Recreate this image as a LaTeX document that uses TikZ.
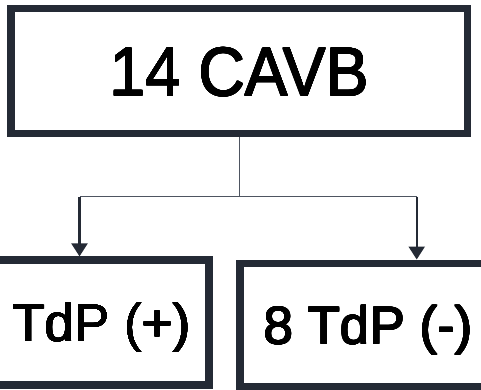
\documentclass[tikz,border=0pt]{standalone}
\usepackage{fontspec}
\setmainfont{Liberation Sans}
\usepackage[copies]{contour}
\contourlength{0.4pt}
\contournumber{16}
\usetikzlibrary{arrows.meta}
\definecolor{frame}{HTML}{242A35}
\definecolor{wire}{HTML}{4E5561}
\newcommand{\heavy}[1]{\contour{black}{#1}}
\begin{document}
\begin{tikzpicture}[x=1pt,y=-1pt,
  box/.style={draw=frame,line width=7.5pt,inner sep=0pt,
    text depth=0pt,text=black},
  link/.style={draw=wire,line width=1pt},
  feed/.style={draw=frame,line width=2.3pt,
    -{Triangle[width=16pt,length=13pt]}}]
  \useasboundingbox (0,0) rectangle (481,390);
  \fill[white] (0,0) rectangle (481,390);

  \node[box,minimum width=456.7pt,minimum height=125pt,text height=49.5pt,
    font=\fontsize{69}{69}\selectfont] (top) at (239.35,71.2)
    {\scalebox{0.93}[1]{\heavy{14 CAVB}}};
  \node[box,minimum width=214.6pt,minimum height=124.7pt,text height=38pt,
    font=\fontsize{53}{53}\selectfont] (pos) at (101.7,322.5) {\heavy{TdP (+)}};
  \node[box,minimum width=256.6pt,minimum height=123.5pt,text height=38pt,
    font=\fontsize{53}{53}\selectfont] (neg) at (368.3,325) {\heavy{8 TdP (-)}};

  \coordinate (jl) at (79.5,196.5);
  \coordinate (jr) at (416.7,196.5);
  \draw[link] (top.south) |- (jl);
  \draw[link] (top.south) |- (jr);
  \draw[feed] (jl) -- (jl |- pos.north);
  \draw[feed] (jr) -- (jr |- neg.north);
\end{tikzpicture}
\end{document}
